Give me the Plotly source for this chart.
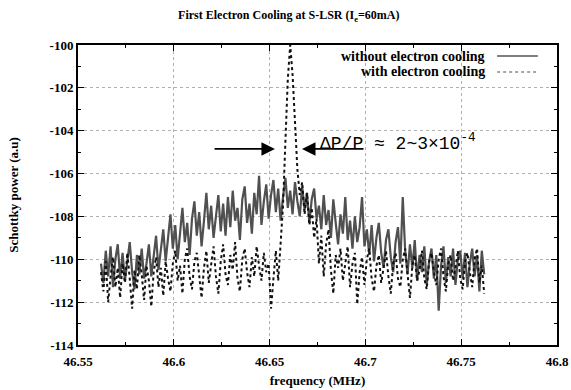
import numpy as np
import plotly.graph_objects as go

# frequency sampling grid (MHz)
f_start, f_stop, n_pts = 46.562, 46.762, 161
freq = np.linspace(f_start, f_stop, n_pts)

without_cooling = [
    -110.2, -111.1, -109.6, -110.8, -109.4, -111.3, -110.0, -109.3, -110.9, -109.7,
    -111.0, -110.1, -109.2, -110.6, -111.4, -109.8, -110.7, -109.5, -110.9, -110.2,
    -109.3, -110.8, -109.9, -108.9, -110.5, -109.6, -108.6, -110.1, -109.0, -107.9,
    -109.5, -108.4, -110.0, -108.7, -107.6, -109.2, -108.3, -109.8, -108.1, -107.3,
    -108.9, -107.8, -109.4, -108.2, -106.9, -108.6, -107.5, -109.0, -107.9, -107.0,
    -108.7, -107.4, -108.9, -107.1, -108.5, -106.8, -108.2, -107.6, -109.1, -107.2,
    -106.6, -108.3, -107.4, -108.8, -106.9, -107.9, -106.1, -108.4, -107.3, -106.5,
    -108.1, -107.0, -106.3, -107.8, -106.7, -108.2, -107.1, -106.2, -107.6, -106.8,
    -107.9, -106.4, -107.3, -108.0, -106.6, -107.7, -106.9, -108.3, -107.2, -106.7,
    -108.1, -107.5, -108.6, -107.0, -108.4, -107.7, -109.0, -107.2, -108.3, -109.3,
    -107.9, -108.8, -107.1, -109.1, -108.2, -109.5, -108.0, -109.2, -108.5, -107.1,
    -109.4, -108.6, -109.8, -108.4, -110.1, -109.0, -108.3, -109.7, -110.4, -109.1,
    -108.6, -109.9, -110.6, -109.2, -108.5, -110.2, -107.1, -109.6, -110.7, -109.3,
    -110.4, -109.1, -111.0, -109.8, -110.6, -109.4, -111.2, -110.1, -109.5, -110.9,
    -109.8, -112.4, -110.3, -109.4, -111.1, -109.9, -110.8, -109.5, -111.2, -110.0,
    -109.6, -110.9, -109.7, -111.3, -110.2, -109.5, -110.8, -109.8, -111.5, -109.6,
    -110.7,
]

with_cooling = [
    -110.6, -111.5, -110.1, -112.0, -110.8, -109.9, -111.3, -110.4, -111.8, -110.2,
    -111.1, -109.7, -110.9, -112.3, -110.5, -111.4, -109.8, -110.7, -111.9, -110.3,
    -111.0, -112.2, -110.6, -109.9, -111.3, -110.4, -111.7, -110.1, -110.9, -111.5,
    -110.2, -109.6, -111.0, -110.3, -111.6, -110.0, -109.5, -110.8, -111.4, -110.1,
    -109.7, -110.9, -111.8, -110.4, -109.6, -111.1, -110.2, -109.4, -110.8, -111.6,
    -110.1, -109.3, -110.7, -111.2, -109.8, -110.5, -109.2, -110.9, -111.5, -110.0,
    -109.5, -110.6, -111.3, -109.9, -110.8, -109.4, -110.3, -111.0, -109.7, -110.6,
    -110.2, -112.3, -110.9, -109.6, -111.0, -109.2, -107.5, -104.5, -101.6, -100.0,
    -101.4, -103.6, -105.8, -107.0, -106.4, -107.9, -106.9, -108.4, -107.6, -109.0,
    -108.1, -110.2, -108.9, -110.8, -109.3, -108.6, -110.5, -111.6, -109.8, -110.4,
    -109.5, -111.0, -110.1, -109.4, -111.3, -110.2, -109.7, -112.1, -110.6, -109.9,
    -111.2, -110.0, -109.5, -110.9, -111.5, -110.3, -109.8, -111.1, -110.4, -109.6,
    -110.8, -111.6, -110.2, -109.7, -110.9, -111.3, -110.0, -109.5, -110.7, -111.8,
    -110.3, -109.8, -111.0, -110.5, -109.6, -110.9, -111.4, -110.1, -109.7, -110.6,
    -111.2, -110.0, -109.5, -110.8, -111.5, -110.2, -109.8, -111.0, -110.4, -109.6,
    -110.9, -111.4, -110.1, -109.7, -110.6, -111.3, -110.0, -109.5, -111.1, -110.3,
    -111.6,
]

series_names = ["without electron cooling", "with electron cooling"]
x_ticks = [46.55, 46.6, 46.65, 46.7, 46.75, 46.8]
x_tick_labels = ["46.55", "46.6", "46.65", "46.7", "46.75", "46.8"]
y_ticks = [-114, -112, -110, -108, -106, -104, -102, -100]
y_tick_labels = ["-114", "-112", "-110", "-108", "-106", "-104", "-102", "-100"]

# arrow positions (frequency, power) of annotation arrows
arrow_left = dict(tip=(46.6528, -104.85), tail=(46.6205, -104.85))
arrow_right = dict(tip=(46.6669, -104.85), tail=(46.6998, -104.85))

SERIF = "Liberation Serif"
fig = go.Figure()
fig.add_trace(go.Scatter(x=freq, y=without_cooling, mode="lines", name=series_names[0],
                         line=dict(color="#505050", width=2.2)))
fig.add_trace(go.Scatter(x=freq, y=with_cooling, mode="lines", name=series_names[1],
                         line=dict(color="#111111", width=2.0, dash="dot")))

axis_common = dict(showline=True, linecolor="black", linewidth=2, mirror="allticks",
                   ticks="inside", ticklen=6, tickcolor="black", tickwidth=1.2,
                   showgrid=True, gridcolor="#b0b0b0", griddash="dot", gridwidth=1,
                   zeroline=False, automargin=False,
                   tickfont=dict(family=SERIF, size=13, color="black", weight="bold"))

fig.update_xaxes(range=[46.55, 46.8], tickvals=x_ticks, ticktext=x_tick_labels,
                 ticklabelstandoff=3,
                 minor=dict(dtick=0.025, ticks="inside", ticklen=3, tickcolor="black", showgrid=False),
                 title=dict(text="frequency (MHz)", font=dict(family=SERIF, size=13, color="black", weight="bold"),
                            standoff=8),
                 **axis_common)
fig.update_yaxes(range=[-114, -100], tickvals=y_ticks, ticktext=y_tick_labels,
                 minor=dict(dtick=1, ticks="inside", ticklen=3, tickcolor="black", showgrid=False),
                 title=dict(text="Schottky power (a.u)", font=dict(family=SERIF, size=13, color="black", weight="bold"),
                            standoff=28),
                 **axis_common)

annotations = []
for a in (arrow_left, arrow_right):
    annotations.append(dict(x=a["tip"][0], y=a["tip"][1], ax=a["tail"][0], ay=a["tail"][1],
                            xref="x", yref="y", axref="x", ayref="y", text="", showarrow=True,
                            arrowhead=2, arrowsize=1.5, arrowwidth=1.8, arrowcolor="black"))
annotations.append(dict(x=46.6753, y=-104.53, xref="x", yref="y", xanchor="left", yanchor="middle",
                        text="\u0394P/P \u2248 2~3\u00d710<sup>-4</sup>", showarrow=False,
                        font=dict(family="Liberation Mono", size=18, color="black")))
# legend (text right-aligned, sample to the right)
for i, yy in enumerate([0.963, 0.91]):
    annotations.append(dict(x=0.854, y=yy, xref="paper", yref="paper", xanchor="right", yanchor="middle",
                            text=series_names[i], showarrow=False,
                            font=dict(family=SERIF, size=14, color="black", weight="bold")))

shapes = [
    dict(type="line", xref="paper", yref="paper", x0=0.875, x1=0.96, y0=0.963, y1=0.963,
         line=dict(color="#555555", width=1.5)),
    dict(type="line", xref="paper", yref="paper", x0=0.875, x1=0.96, y0=0.91, y1=0.91,
         line=dict(color="#888888", width=1.5, dash="dot")),
]

fig.update_layout(
    width=571, height=390, showlegend=False,
    margin=dict(l=78, r=14, t=45, b=45),
    paper_bgcolor="white", plot_bgcolor="white",
    title=dict(text="First Electron Cooling at S-LSR (I<sub>e</sub>=60mA)", x=0.44, xref="paper",
               xanchor="center", y=0.962, yanchor="middle",
               font=dict(family=SERIF, size=12, color="black", weight="bold")),
    annotations=annotations, shapes=shapes,
)

fig.write_html("out.html")
